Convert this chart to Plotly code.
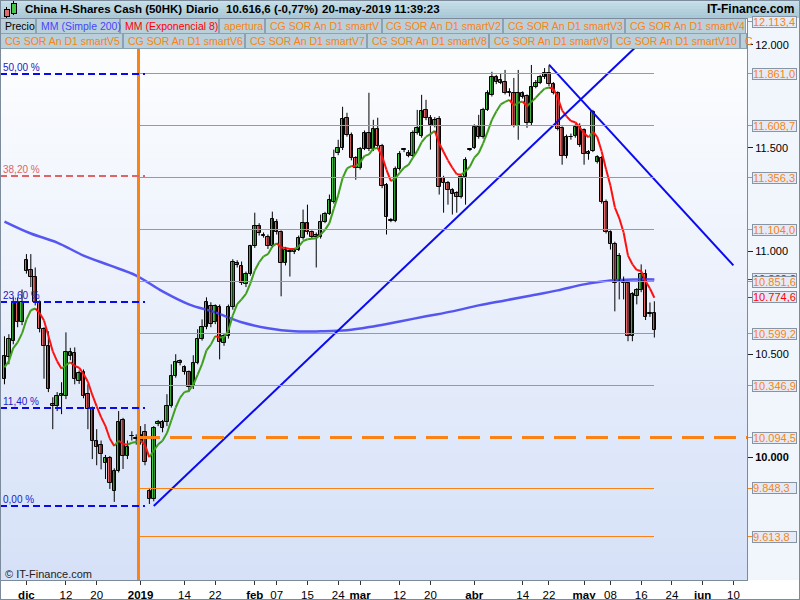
import plotly.graph_objects as go
import pandas as pd

# ---------------------------------------------------------------- data
all_days = pd.date_range("2018-11-26", "2019-06-14", freq="D")
market_holidays = pd.to_datetime(["2019-01-01", "2019-04-19"])
trade_days = [d for d in all_days if d.weekday() != 5 and d not in market_holidays]

opens = [10378, 10484, 10562, 10751, 10654, 10954, 10906, 10872, 10751, 10620,
         10537, 10257, 10247, 10295, 10295, 10489, 10504, 10368, 10412, 10305,
         10232, 10077, 10060, 9971, 9995, 9835, 9932, 10179, 10005, 10100,
         10090, 10077, 10121, 9835, 9796, 10160, 10169, 10169, 10247, 10392,
         10465, 10436, 10412, 10344, 10455, 10571, 10630, 10731, 10654, 10726,
         10552, 10586, 10726, 10944, 10925, 10838, 10886, 11022, 11123, 11078,
         11070, 11022, 11143, 11090, 10944, 11000, 10993, 11007, 11065, 11138,
         11090, 11080, 11070, 11143, 11182, 11240, 11477, 11501, 11647, 11564,
         11453, 11404, 11496, 11574, 11496, 11593, 11511, 11322, 11150, 11148,
         11400, 11490, 11477, 11463, 11574, 11559, 11685, 11647, 11608, 11642,
         11356, 11332, 11298, 11283, 11264, 11361, 11490, 11501, 11603, 11555,
         11685, 11758, 11845, 11816, 11821, 11773, 11768, 11608, 11768, 11753,
         11622, 11797, 11816, 11845, 11864, 11811, 11768, 11598, 11463, 11555,
         11559, 11608, 11588, 11472, 11487, 11433, 11453, 11240, 11094, 11036,
         10852, 10852, 10847, 10586, 10784, 10809, 10886, 10697, 10697]
highs = [10586, 10596, 10775, 10775, 10813, 10985, 10985, 10920, 10760, 10630,
         10610, 10290, 10315, 10363, 10605, 10530, 10532, 10420, 10425, 10353,
         10245, 10135, 10080, 10010, 10005, 9945, 10223, 10190, 10080, 10125,
         10110, 10150, 10160, 9850, 10150, 10180, 10180, 10305, 10450, 10499,
         10474, 10445, 10420, 10494, 10620, 10668, 10775, 10751, 10741, 10740,
         10600, 10740, 10960, 10955, 10949, 10900, 11030, 11186, 11135, 11090,
         11080, 11191, 11155, 11100, 11020, 11010, 11015, 11075, 11201, 11225,
         11100, 11090, 11177, 11190, 11274, 11492, 11540, 11700, 11671, 11575,
         11460, 11505, 11585, 11768, 11637, 11647, 11520, 11330, 11160, 11410,
         11485, 11500, 11490, 11585, 11685, 11758, 11734, 11660, 11650, 11655,
         11365, 11340, 11305, 11290, 11370, 11455, 11500, 11615, 11661, 11695,
         11780, 11870, 11855, 11864, 11879, 11790, 11840, 11879, 11775, 11760,
         11903, 11830, 11855, 11888, 11898, 11820, 11775, 11605, 11565, 11570,
         11615, 11620, 11595, 11490, 11685, 11465, 11460, 11250, 11100, 11045,
         10990, 10876, 10855, 10800, 10820, 10935, 10910, 10750, 10756]
lows = [10353, 10450, 10547, 10630, 10640, 10890, 10825, 10736, 10605, 10380,
        10315, 10135, 10223, 10208, 10281, 10470, 10353, 10355, 10285, 10135,
        9990, 9960, 9940, 9893, 9845, 9782, 9925, 9942, 9990, 10080,
        10060, 10060, 9960, 9772, 9785, 10150, 10120, 10150, 10240, 10385,
        10445, 10400, 10315, 10330, 10450, 10565, 10620, 10630, 10645, 10474,
        10540, 10575, 10715, 10920, 10835, 10825, 10880, 11015, 11075, 11065,
        11010, 11015, 11080, 10780, 10930, 10876, 10985, 11000, 11055, 11080,
        11060, 10920, 11060, 11135, 11175, 11230, 11465, 11490, 11555, 11440,
        11346, 11395, 11490, 11485, 11485, 11500, 11305, 11080, 11140, 11140,
        11390, 11480, 11455, 11455, 11565, 11550, 11635, 11492, 11600, 11274,
        11186, 11225, 11177, 11186, 11255, 11225, 11485, 11495, 11545, 11545,
        11680, 11750, 11810, 11810, 11760, 11750, 11600, 11540, 11740, 11598,
        11610, 11790, 11810, 11835, 11800, 11760, 11585, 11419, 11450, 11540,
        11550, 11505, 11419, 11443, 11480, 11425, 11230, 11085, 11007, 10707,
        10765, 10765, 10562, 10562, 10741, 10800, 10665, 10680, 10580]
closes = [10489, 10571, 10751, 10654, 10751, 10901, 10872, 10751, 10620, 10537,
          10329, 10247, 10295, 10305, 10508, 10508, 10378, 10407, 10295, 10232,
          10077, 10050, 10014, 9995, 9874, 9932, 10169, 10005, 10048, 10104,
          10087, 10106, 9976, 9796, 10140, 10169, 10140, 10247, 10392, 10460,
          10455, 10412, 10339, 10455, 10571, 10630, 10751, 10644, 10731, 10557,
          10586, 10726, 10949, 10930, 10847, 10886, 11022, 11123, 11085, 11075,
          11022, 11153, 11090, 10944, 11007, 10995, 11007, 11065, 11138, 11090,
          11070, 11070, 11143, 11182, 11249, 11453, 11501, 11642, 11564, 11453,
          11404, 11496, 11574, 11496, 11593, 11511, 11317, 11167, 11146, 11400,
          11472, 11494, 11463, 11574, 11598, 11680, 11647, 11613, 11637, 11312,
          11332, 11298, 11278, 11264, 11361, 11443, 11494, 11603, 11555, 11685,
          11768, 11845, 11821, 11830, 11768, 11768, 11608, 11768, 11748, 11622,
          11797, 11816, 11845, 11864, 11811, 11768, 11593, 11463, 11555, 11552,
          11603, 11516, 11472, 11482, 11676, 11458, 11240, 11094, 11036, 10847,
          10978, 10843, 10586, 10789, 10809, 10886, 10678, 10695, 10617]

ema_period = 8
ema_seed = 10420

# simple 200 moving average at every 6th bar
sma_bars = [0, 6, 12, 18, 24, 30, 36, 42, 48, 54, 60, 66, 72, 78, 84, 90, 96,
            102, 108, 114, 120, 126, 132, 138, 144, 148]
sma_values = [11143, 11085, 11041, 10978, 10930, 10881, 10804, 10741, 10702,
              10654, 10625, 10610, 10610, 10615, 10634, 10658, 10683, 10707,
              10736, 10760, 10784, 10809, 10838, 10857, 10862, 10862]
sma_last = 10862.2
ema_last = 10774.6

# trend lines (bar index, value)
up_line_bars = [34, 144]
up_line_values = [9762, 11995]
down_line_bars = [124, 166]
down_line_values = [11905, 10930]

# "CG SOR" smart levels
smart_levels = [12113.4, 11861.0, 11608.7, 11356.3, 11104.0, 10851.6,
                10599.2, 10346.9, 10094.5, 9848.3, 9613.8]
main_level = 10094.5

# Fibonacci retracement
fib_low, fib_high = 9760, 13962
fib_ratios = [0.0, 0.114, 0.236, 0.382, 0.5]
fib_labels = ["0,00 %", "11,40 %", "23,60 %", "38,20 %", "50,00 %"]

# x tick labels
tick_dates = ["2018-12-02", "2018-12-12", "2018-12-20", "2019-01-02", "2019-01-14",
              "2019-01-22", "2019-02-01", "2019-02-07", "2019-02-15", "2019-02-24",
              "2019-03-01", "2019-03-12", "2019-03-20", "2019-04-01", "2019-04-14",
              "2019-04-22", "2019-05-01", "2019-05-08", "2019-05-16", "2019-05-24",
              "2019-06-02", "2019-06-10"]
tick_texts = ["<b>dic</b>", "12", "20", "<b>2019</b>", "14", "22", "<b>feb</b>", "07",
              "15", "24", "<b>mar</b>", "12", "20", "<b>abr</b>", "14", "22",
              "<b>may</b>", "08", "16", "24", "<b>jun</b>", "10"]
y_ticks = [10000, 10500, 11000, 11500, 12000]
y_tick_texts = ["<b>10.000</b>", "10.500", "11.000", "11.500", "12.000"]

title_parts = ["China H-Shares Cash (50HK)", "Diario", "10.616,6 (-0,77%)",
               "20-may-2019 11:39:23"]
legend_row1 = ["Precio", "MM (Simple 200)", "MM (Exponencial 8)", "apertura",
               "CG SOR An D1 smartV", "CG SOR An D1 smartV2", "CG SOR An D1 smartV3",
               "CG SOR An D1 smartV4"]
legend_row2 = ["CG SOR An D1 smartV5", "CG SOR An D1 smartV6", "CG SOR An D1 smartV7",
               "CG SOR An D1 smartV8", "CG SOR An D1 smartV9", "CG SOR An D1 smartV10", "C"]

# ---------------------------------------------------------------- layout helpers
FONT = "Liberation Sans, Arial, sans-serif"
ORANGE = "#fb8214"
W, H = 800, 600
PL, PR, PT, PB = 0, 747, 18, 580
Y_RANGE = [9403, 12131]
X_RANGE = [-1.02, 169.1]


def fx(px):
    return (px - PL) / (PR - PL)


def fy(py):
    return (PB - py) / (PB - PT)


def mix(c1, c2, t):
    a = [int(c1[i:i + 2], 16) for i in (1, 3, 5)]
    b = [int(c2[i:i + 2], 16) for i in (1, 3, 5)]
    return "#" + "".join("%02x" % round(a[k] + (b[k] - a[k]) * t) for k in range(3))


def fmt_num(v):
    s = f"{v:,.1f}"
    return s.replace(",", "X").replace(".", ",").replace("X", ".")


idx = {d.strftime("%Y-%m-%d"): i for i, d in enumerate(trade_days)}
n = len(closes)
bars = list(range(n))
jan2 = idx["2019-01-02"]
fib_end = idx["2019-01-03"]

fig = go.Figure()
shapes = []
annotations = []

# plot background gradient
NB = 40
for k in range(NB):
    y0 = PT + (PB - PT) * k / NB
    y1 = PT + (PB - PT) * (k + 1) / NB
    shapes.append(dict(type="rect", xref="paper", yref="paper", x0=0, x1=1,
                       y0=fy(y1), y1=fy(y0) + 0.001, layer="below", line=dict(width=0),
                       fillcolor=mix("#ffffff", "#d5e1f8", (k + 0.5) / NB)))

# ---------------------------------------------------------------- traces
fig.add_trace(go.Scatter(x=sma_bars, y=sma_values, mode="lines",
                         line=dict(color="#4646f2", width=2.5, shape="spline"),
                         opacity=0.9, hoverinfo="skip"))

# candle wicks
wx, wy = [], []
for i in bars:
    wx += [i, i, None]
    wy += [lows[i], highs[i], None]
fig.add_trace(go.Scatter(x=wx, y=wy, mode="lines", line=dict(color="black", width=1),
                         hoverinfo="skip"))

up = [i for i in bars if closes[i] >= opens[i]]
dn = [i for i in bars if closes[i] < opens[i]]
fig.add_trace(go.Bar(x=up, base=[opens[i] for i in up],
                     y=[max(closes[i] - opens[i], 3) for i in up], width=0.8,
                     marker=dict(color="#46c846", line=dict(color="black", width=1))))
fig.add_trace(go.Bar(x=dn, base=[closes[i] for i in dn],
                     y=[opens[i] - closes[i] for i in dn], width=0.8,
                     marker=dict(color="#e46a6a", line=dict(color="black", width=1))))

# EMA 8 coloured by slope
kf = 2 / (ema_period + 1)
ema = []
prev = ema_seed
for c in closes:
    prev = prev + kf * (c - prev)
    ema.append(prev)
gx, gy, rx, ry = [], [], [], []
for i in range(1, n):
    if ema[i] >= ema[i - 1]:
        gx += [i - 1, i, None]
        gy += [ema[i - 1], ema[i], None]
    else:
        rx += [i - 1, i, None]
        ry += [ema[i - 1], ema[i], None]
fig.add_trace(go.Scatter(x=gx, y=gy, mode="lines", line=dict(color="#3f9e1c", width=2),
                         hoverinfo="skip"))
fig.add_trace(go.Scatter(x=rx, y=ry, mode="lines", line=dict(color="#ff1010", width=2),
                         hoverinfo="skip"))

# trend lines
fig.add_trace(go.Scatter(x=up_line_bars, y=up_line_values, mode="lines",
                         line=dict(color="#0a0af0", width=2), hoverinfo="skip"))
fig.add_trace(go.Scatter(x=down_line_bars, y=down_line_values, mode="lines",
                         line=dict(color="#0a0af0", width=2), hoverinfo="skip"))

# ---------------------------------------------------------------- level lines
for lv in smart_levels:
    if lv == main_level:
        shapes.append(dict(type="line", xref="x", yref="y", x0=jan2 - 0.5, x1=X_RANGE[1],
                           y0=lv, y1=lv, line=dict(color=ORANGE, width=3, dash="22px,10px")))
    else:
        shapes.append(dict(type="line", xref="x", yref="y", x0=jan2 - 0.5, x1=n - 1,
                           y0=lv, y1=lv, line=dict(color=ORANGE, width=1)))
# year separator
shapes.append(dict(type="line", xref="x", yref="paper", x0=jan2 - 0.5, x1=jan2 - 0.5,
                   y0=0, y1=1, line=dict(color=ORANGE, width=3)))

# fibonacci
for r, lab in zip(fib_ratios, fib_labels):
    lv = fib_low + r * (fib_high - fib_low)
    col = "#e06464" if abs(r - 0.382) < 1e-6 else "#0a0aee"
    tcol = "#e06464" if abs(r - 0.382) < 1e-6 else "#2020c8"
    shapes.append(dict(type="line", xref="x", yref="y", x0=X_RANGE[0], x1=fib_end,
                       y0=lv, y1=lv, line=dict(color=col, width=2, dash="7px,4px")))
    annotations.append(dict(xref="paper", yref="y", x=fx(1), y=lv, xanchor="left",
                            yanchor="bottom", text=lab, showarrow=False, yshift=-1,
                            font=dict(family=FONT, size=10, color=tcol)))

# ---------------------------------------------------------------- right axis area
shapes.append(dict(type="rect", xref="paper", yref="paper", x0=fx(PR), x1=fx(W),
                   y0=fy(PB), y1=fy(PT), layer="below", line=dict(width=0),
                   fillcolor="#f1f5fc"))


def value_box(v, color, tick_color):
    shapes.append(dict(type="line", xref="paper", yref="y", x0=fx(PR), x1=fx(PR + 5),
                       y0=v, y1=v, line=dict(color=tick_color, width=1)))
    annotations.append(dict(xref="paper", yref="y", x=fx(752), y=v, xanchor="left",
                            yanchor="middle", text=fmt_num(v), showarrow=False,
                            width=43, height=10, borderpad=0, align="left",
                            bgcolor="#e4ebf6", bordercolor="#8595a6", borderwidth=1,
                            font=dict(family=FONT, size=11, color=color)))


value_box(sma_last, "#3030ff", "#3030ff")
for lv in smart_levels:
    value_box(lv, ORANGE, ORANGE)
value_box(ema_last, "#ff0000", "#ff0000")

# ---------------------------------------------------------------- header
for k in range(6):
    shapes.append(dict(type="rect", xref="paper", yref="paper", x0=fx(0), x1=fx(W),
                       y0=fy(3 * (k + 1)), y1=fy(3 * k), line=dict(width=0),
                       fillcolor=mix("#c9e1ea", "#a7c6d5", (k + 0.5) / 6)))
# header icon
shapes.append(dict(type="line", xref="paper", yref="paper", x0=fx(6.5), x1=fx(6.5),
                   y0=fy(18), y1=fy(7), line=dict(color="black", width=1)))
shapes.append(dict(type="rect", xref="paper", yref="paper", x0=fx(4), x1=fx(9),
                   y0=fy(16), y1=fy(9), fillcolor="#e46a6a", line=dict(color="black", width=1)))
shapes.append(dict(type="line", xref="paper", yref="paper", x0=fx(13.5), x1=fx(13.5),
                   y0=fy(15), y1=fy(1), line=dict(color="black", width=1)))
shapes.append(dict(type="rect", xref="paper", yref="paper", x0=fx(11), x1=fx(16),
                   y0=fy(13), y1=fy(3), fillcolor="#46c846", line=dict(color="black", width=1)))

for text, px in zip(title_parts, [23, 184, 224, 320]):
    annotations.append(dict(xref="paper", yref="paper", x=fx(px), y=fy(9.5),
                            xanchor="left", yanchor="middle", showarrow=False,
                            text="<b>" + text + "</b>",
                            font=dict(family=FONT, size=11.5, color="black")))
annotations.append(dict(xref="paper", yref="paper", x=fx(796), y=fy(9.5),
                        xanchor="right", yanchor="middle", showarrow=False,
                        text="<b>IT-Finance.com</b>",
                        font=dict(family=FONT, size=12, color="black")))

# legend boxes
row1_edges = [0, 36, 120, 219, 265, 382, 503, 625, 746]
row1_colors = ["black", "#4646ff", "#ff0000", ORANGE, ORANGE, ORANGE, ORANGE, ORANGE]
row2_edges = [0, 123, 245, 367, 489, 611, 740, 747]
for row, edges, labels, colors, ytop in [
        (1, row1_edges, legend_row1, row1_colors, 18),
        (2, row2_edges, legend_row2, [ORANGE] * 7, 33)]:
    for j, lab in enumerate(labels):
        x0, x1 = edges[j], edges[j + 1] - 1
        shapes.append(dict(type="rect", xref="paper", yref="paper", x0=fx(x0), x1=fx(x1),
                           y0=fy(ytop + 15), y1=fy(ytop), fillcolor="#b9cfda",
                           line=dict(color="#8aa2b2", width=1)))
        annotations.append(dict(xref="paper", yref="paper", x=fx(x0 + 2.5), y=fy(ytop + 7.5),
                                xanchor="left", yanchor="middle", showarrow=False,
                                text=lab, font=dict(family=FONT, size=10.5, color=colors[j])))

# copyright
annotations.append(dict(xref="paper", yref="paper", x=fx(3), y=fy(574), xanchor="left",
                        yanchor="middle", showarrow=False, text="© IT-Finance.com",
                        font=dict(family=FONT, size=11, color="#222222")))

# frames
shapes.append(dict(type="rect", xref="paper", yref="paper", x0=0, x1=1, y0=0, y1=1,
                   line=dict(color="#7b8b9b", width=1)))
shapes.append(dict(type="rect", xref="paper", yref="paper", x0=fx(0.5), x1=fx(799.5),
                   y0=fy(599.5), y1=fy(0.5), line=dict(color="#7b8b9b", width=1)))

fig.update_layout(
    width=W, height=H, autosize=False,
    margin=dict(l=PL, r=W - PR, t=PT, b=H - PB, pad=0),
    paper_bgcolor="white", plot_bgcolor="rgba(0,0,0,0)",
    showlegend=False, barmode="overlay", bargap=0,
    font=dict(family=FONT, size=11, color="black"),
    xaxis=dict(range=X_RANGE, tickvals=[idx[d] for d in tick_dates], ticktext=tick_texts,
               showgrid=False, zeroline=False, ticks="outside", ticklen=4,
               tickcolor="#333333", showline=False, automargin=False,
               tickfont=dict(family=FONT, size=11.5, color="black"), fixedrange=True),
    yaxis=dict(range=Y_RANGE, side="right", tickvals=y_ticks, ticktext=y_tick_texts,
               showgrid=False, zeroline=False, ticks="outside", ticklen=5,
               tickcolor="#222222", showline=False, automargin=False,
               tickfont=dict(family=FONT, size=11, color="black"), fixedrange=True),
    shapes=shapes, annotations=annotations,
)

post = ("document.body.style.margin='0px';"
        "document.querySelectorAll('.shapelayer path').forEach(function(p){"
        "p.style.shapeRendering='crispEdges';});")
fig.write_html("out.html", config={"displayModeBar": False}, post_script=post)
